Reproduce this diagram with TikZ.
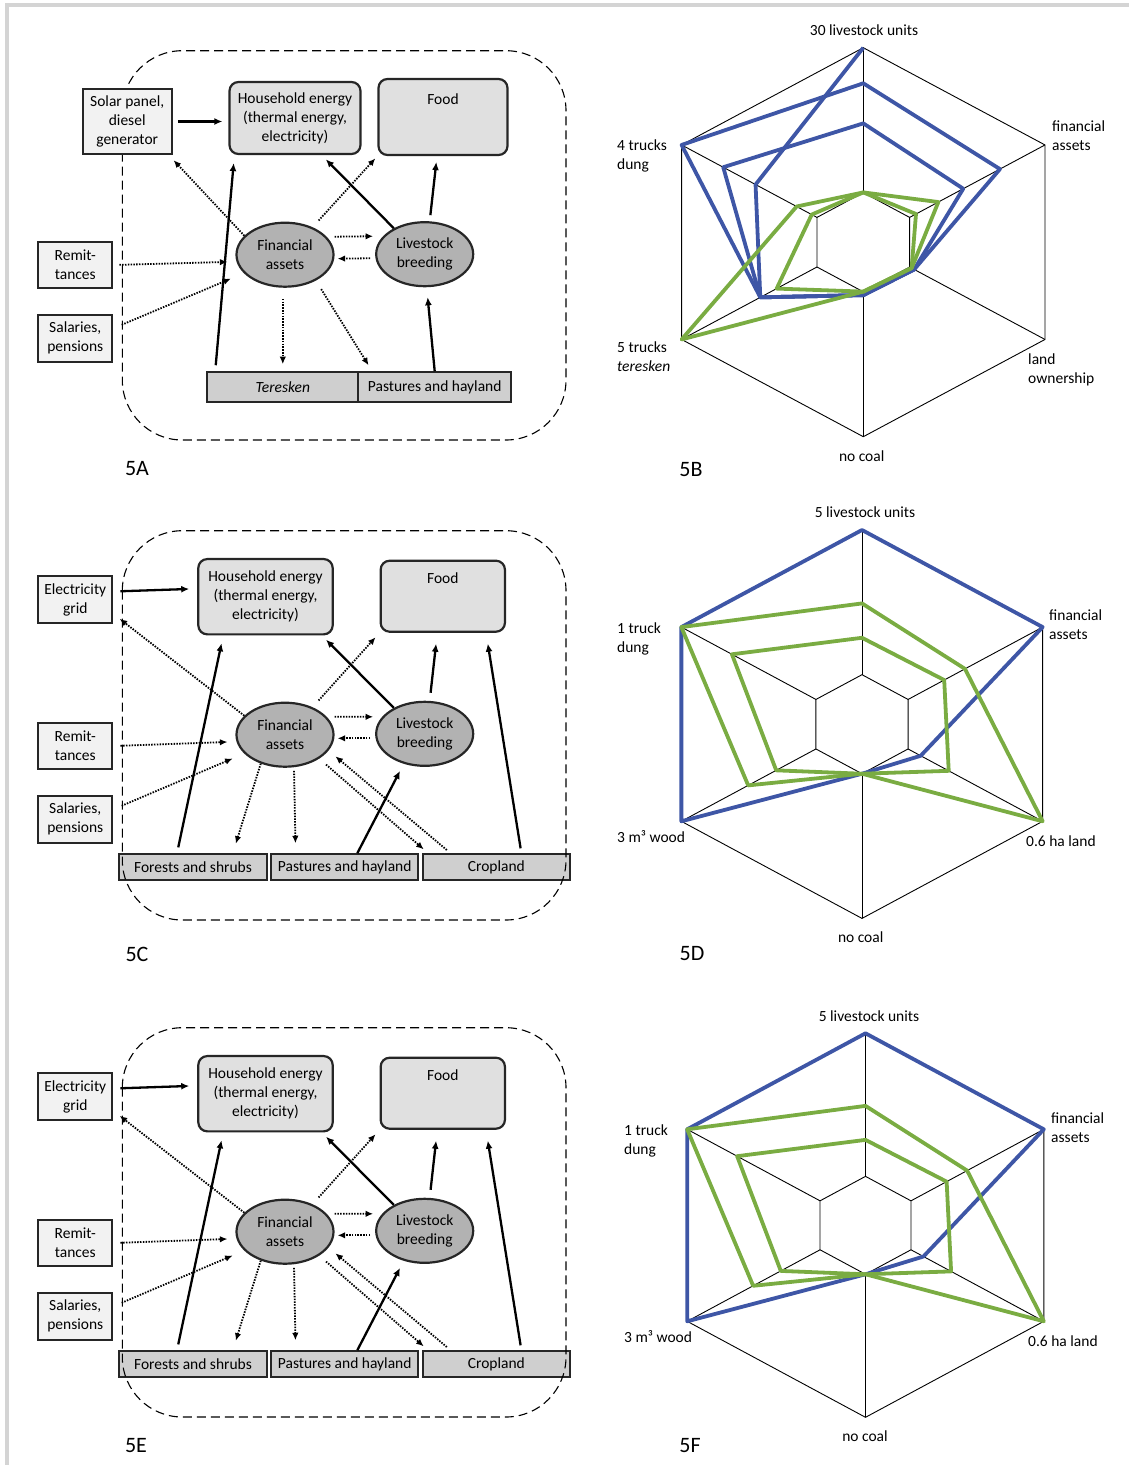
\documentclass[tikz,border=0pt]{standalone}
\usepackage{fontspec}
\setmainfont{Carlito}
\usetikzlibrary{arrows.meta,positioning,shapes.geometric}
\definecolor{serblue}{RGB}{62,86,166}
\definecolor{sergreen}{RGB}{122,172,66}

\begin{document}
\begin{tikzpicture}[x=1pt,y=-1pt,font=\fontsize{15.5}{19}\selectfont,
  ext/.style={rectangle,draw=black!85,line width=2.2pt,fill=black!5,align=center,inner sep=0pt},
  goal/.style={rectangle,rounded corners=9pt,draw=black!85,line width=2.2pt,fill=black!12,align=center,inner sep=0pt},
  res/.style={ellipse,draw=black!85,line width=2.2pt,fill=black!30,align=center,inner sep=0pt,minimum width=97pt,minimum height=64pt},
  land/.style={rectangle,draw=black!85,line width=2.2pt,fill=black!19,inner sep=0pt},
  flow/.style={line width=2.3pt,-{Latex[length=8pt,width=7pt]}},
  money/.style={line width=1.8pt,dash pattern=on 1.5pt off 1.3pt,-{Latex[length=7.5pt,width=6.5pt]}},
  bound/.style={line width=1.1pt,dash pattern=on 9pt off 5pt,rounded corners=60pt},
  grid/.style={line width=0.9pt},
  bline/.style={serblue,line width=3.8pt,line join=round},
  gline/.style={sergreen,line width=3.8pt,line join=round},
  lab/.style={inner sep=0pt,anchor=west,align=left},
  tag/.style={font=\fontsize{22}{26}\selectfont}]

\useasboundingbox (0,0) rectangle (1129,1465);
\fill[black!17] (4.7,3.3) rectangle (1129,7.3);
\fill[black!17] (4.7,3.3) rectangle (8.7,1465);

% 5A
\draw[bound] (122.3,50.7) rectangle (566,440);
\node[ext,minimum width=89pt,minimum height=65pt] (sol) at (127.2,121.5) {Solar panel,\\diesel\\generator};
\node[goal,minimum width=131pt,minimum height=72pt] (hh) at (295,118) {Household energy\\(thermal energy,\\electricity)};
\node[goal,minimum width=129pt,minimum height=76pt,text height=10pt,text depth=36pt] (food) at (443,117) {Food};
\node[res] (fin) at (285,254.7) {Financial\\assets};
\node[res] (liv) at (424.7,254.2) {Livestock\\breeding};
\node[ext,minimum width=74pt,minimum height=46.6pt] (rem) at (75.3,265) {Remit-\\tances};
\node[ext,minimum width=74pt,minimum height=46.6pt] (sal) at (75.3,338.3) {Salaries,\\pensions};
\node[land,minimum width=151pt,minimum height=29.4pt] (ter) at (282.8,387) {\itshape Teresken};
\node[land,minimum width=152.7pt,minimum height=29.4pt] (pas) at (434.7,387) {Pastures and hayland};

\draw[flow,shorten <=5pt,shorten >=6pt] (sol.east) -- (sol.east -| hh.west);
\draw[money,shorten >=7pt] (fin.155) -- ([xshift=-4pt]sol.south east);
\draw[flow,shorten <=6pt,shorten >=8pt] ([xshift=9pt]ter.north west) -- ([xshift=6pt]hh.south west);
\draw[money,shorten <=9pt,shorten >=3pt] (fin.45) -- (food.south west);
\draw[flow,shorten >=6pt] (liv.140) -- ([xshift=-40pt]hh.south east);
\draw[flow,shorten <=6pt,shorten >=6pt] ([xshift=5pt]liv.north) -- ([xshift=-6pt]food.south);
\draw[money,shorten >=2pt] ([yshift=18pt]fin.east) -- ([yshift=18pt]liv.west);
\draw[money,shorten <=5pt,shorten >=3pt] ([yshift=-4pt]liv.west) -- ([yshift=-4pt]fin.east);
\draw[money,shorten <=6pt,shorten >=8pt] (rem.east) -- ([yshift=-7pt]fin.west);
\draw[money,shorten <=9pt,shorten >=5pt] ([yshift=10pt]sal.east) -- ([yshift=-22pt]fin.west);
\draw[money,shorten <=11pt,shorten >=7pt] (ter.north |- fin.south) -- (ter.north);
\draw[money,shorten <=10pt,shorten >=7pt] (fin.-40) -- ([xshift=15pt]pas.north west);
\draw[flow,shorten >=10pt] (pas.north) -- ([xshift=2pt]liv.south);
\node[tag] at (137,469) {5A};

% 5C and 5E
\foreach \dy/\p in {0/c,497/e}{
\begin{scope}[shift={(0,\dy)}]
\node[ext,minimum width=74pt,minimum height=46.7pt] (ele\p) at (75.3,599.5) {Electricity\\grid};
\node[goal,minimum width=134.4pt,minimum height=75.3pt] (hh\p) at (265.5,596.7) {Household energy\\(thermal energy,\\electricity)};
\node[goal,minimum width=124.3pt,minimum height=71pt,text height=10pt,text depth=35pt] (food\p) at (442.8,596.2) {Food};
\node[res] (fin\p) at (285,734.7) {Financial\\assets};
\node[res] (liv\p) at (424.7,733.8) {Livestock\\breeding};
\node[ext,minimum width=74pt,minimum height=46.7pt] (rem\p) at (75.3,746) {Remit-\\tances};
\node[ext,minimum width=74pt,minimum height=46.7pt] (sal\p) at (75.3,819.3) {Salaries,\\pensions};
\node[land,minimum width=147.4pt,minimum height=25.7pt] (for\p) at (193,867.2) {Forests and shrubs};
\node[land,minimum width=147.3pt,minimum height=25.7pt] (pas\p) at (344.7,867.2) {Pastures and hayland};
\node[land,minimum width=147.3pt,minimum height=25.7pt] (cro\p) at (496.4,867.2) {Cropland};
\draw[bound] (122.3,530.7) rectangle (566,920);

\draw[flow,shorten <=7pt,shorten >=8pt] ([yshift=8pt]ele\p.east) -- ([yshift=8pt]hh\p.west);
\draw[money,shorten >=8pt] (fin\p.155) -- ([yshift=10pt]ele\p.south east);
\draw[flow,shorten <=6pt,shorten >=8pt] ([xshift=-16pt]for\p.north) -- ([xshift=26pt]hh\p.south west);
\draw[money,shorten <=9pt,shorten >=6pt] (fin\p.45) -- (food\p.south west);
\draw[flow,shorten >=6pt] (liv\p.140) -- ([xshift=-12pt]hh\p.south east);
\draw[flow,shorten <=8pt,shorten >=11pt] ([xshift=5pt]liv\p.north) -- ([xshift=-5.5pt]food\p.south);
\draw[flow,shorten <=5pt,shorten >=11pt] ([xshift=25pt]cro\p.north) -- ([xshift=-20pt]food\p.south east);
\draw[money,shorten >=2pt] ([yshift=18pt]fin\p.east) -- ([yshift=17pt]liv\p.west);
\draw[money,shorten <=5pt,shorten >=3pt] ([yshift=-4.5pt]liv\p.west) -- ([yshift=-3.6pt]fin\p.east);
\draw[money,shorten <=7pt,shorten >=8pt] (rem\p.east) -- ([yshift=-7pt]fin\p.west);
\draw[money,shorten <=9pt,shorten >=3pt] ([yshift=10pt]sal\p.east) -- ([yshift=-22.6pt]fin\p.west);
\draw[money,shorten >=10pt] (fin\p.230) -- ([xshift=-35pt]for\p.north east);
\draw[money,shorten <=3pt,shorten >=10pt] ([xshift=9pt]fin\p.south) -- ([xshift=25.7pt]pas\p.north west);
\draw[money,shorten <=9pt,shorten >=6pt] (fin\p.-35) -- ([xshift=6.6pt]cro\p.north west);
\draw[money,shorten <=5pt,shorten >=9pt] ([xshift=29pt]cro\p.north west) -- (fin\p.-20);
\draw[flow,shorten >=8pt] ([xshift=12.6pt]pas\p.north) -- (liv\p.-125);
\end{scope}
}
\node[tag] at (137,954) {5C};
\node[tag] at (136,1445) {5E};

% 5B
\begin{scope}[shift={(863.3,242.2)},x=209.8pt,y=194.5pt]
  \draw[grid] (90:1) -- (30:1) -- (-30:1) -- (-90:1) -- (210:1) -- (150:1) -- cycle;
  \draw[grid] (90:0.255) -- (30:0.255) -- (-30:0.255) -- (-90:0.255) -- (210:0.255) -- (150:0.255) -- cycle;
  \foreach \a in {90,30,-30,-90,210,150} \draw[grid] (\a:0.255) -- (\a:1);
  \draw[bline] (90:1) -- (150:0.593) -- (210:0.567) -- (-90:0.272) -- (-30:0.28);
  \draw[bline] (90:0.817) -- (30:0.752) -- (-30:0.28) -- (-90:0.272) -- (210:0.567) -- (150:1) -- cycle;
  \draw[bline] (90:0.611) -- (30:0.55) -- (-30:0.28) -- (-90:0.272) -- (210:0.567) -- (150:0.771) -- cycle;
  \draw[gline] (90:0.256) -- (30:0.413) -- (-30:0.266) -- (-90:0.254) -- (210:1) -- (150:0.367) -- cycle;
  \draw[gline] (90:0.256) -- (30:0.29) -- (-30:0.266) -- (-90:0.254) -- (210:0.477) -- (150:0.284) -- cycle;
\end{scope}
\node at (864,30) {30 livestock units};
\node[lab] at (1052,135.5) {financial\\assets};
\node[lab] at (617,156) {4 trucks\\dung};
\node[lab] at (617,357) {5 trucks\\\textit{teresken}};
\node[lab] at (1028,369.5) {land\\ownership};
\node at (861.7,456) {no coal};
\node[tag] at (691,470) {5B};

% 5D and 5F
\foreach \cx/\cy/\hx/\r in {862/724.2/208.6/194.2,865.5/1225.3/205.9/192}{
\begin{scope}[shift={(\cx,\cy)},x=\hx pt,y=\r pt]
  \draw[grid] (90:1) -- (30:1) -- (-30:1) -- (-90:1) -- (210:1) -- (150:1) -- cycle;
  \draw[grid] (90:0.255) -- (30:0.255) -- (-30:0.255) -- (-90:0.255) -- (210:0.255) -- (150:0.255) -- cycle;
  \foreach \a in {90,30,-30,-90,210,150} \draw[grid] (\a:0.255) -- (\a:1);
  \draw[bline] (90:1) -- (30:1) -- (-30:0.325) -- (-90:0.255) -- (210:1) -- (150:1) -- cycle;
  \draw[gline] (90:0.622) -- (30:0.57) -- (-30:1) -- (-90:0.255) -- (210:0.63) -- (150:1) -- cycle;
  \draw[gline] (90:0.445) -- (30:0.455) -- (-30:0.48) -- (-90:0.255) -- (210:0.475) -- (150:0.72) -- cycle;
\end{scope}
}
\node at (865,512) {5 livestock units};
\node[lab] at (1049,624.5) {financial\\assets};
\node[lab] at (617,638.5) {1 truck\\dung};
\node[lab] at (617,837) {3 m³ wood};
\node[lab] at (1026,841) {0.6 ha land};
\node at (860.7,937) {no coal};
\node[tag] at (692,954) {5D};

\node at (869,1016) {5 livestock units};
\node[lab] at (1051,1127.5) {financial\\assets};
\node[lab] at (624,1140.5) {1 truck\\dung};
\node[lab] at (624,1337) {3 m³ wood};
\node[lab] at (1028,1341) {0.6 ha land};
\node at (865,1436) {no coal};
\node[tag] at (690,1445) {5F};
\end{tikzpicture}
\end{document}
